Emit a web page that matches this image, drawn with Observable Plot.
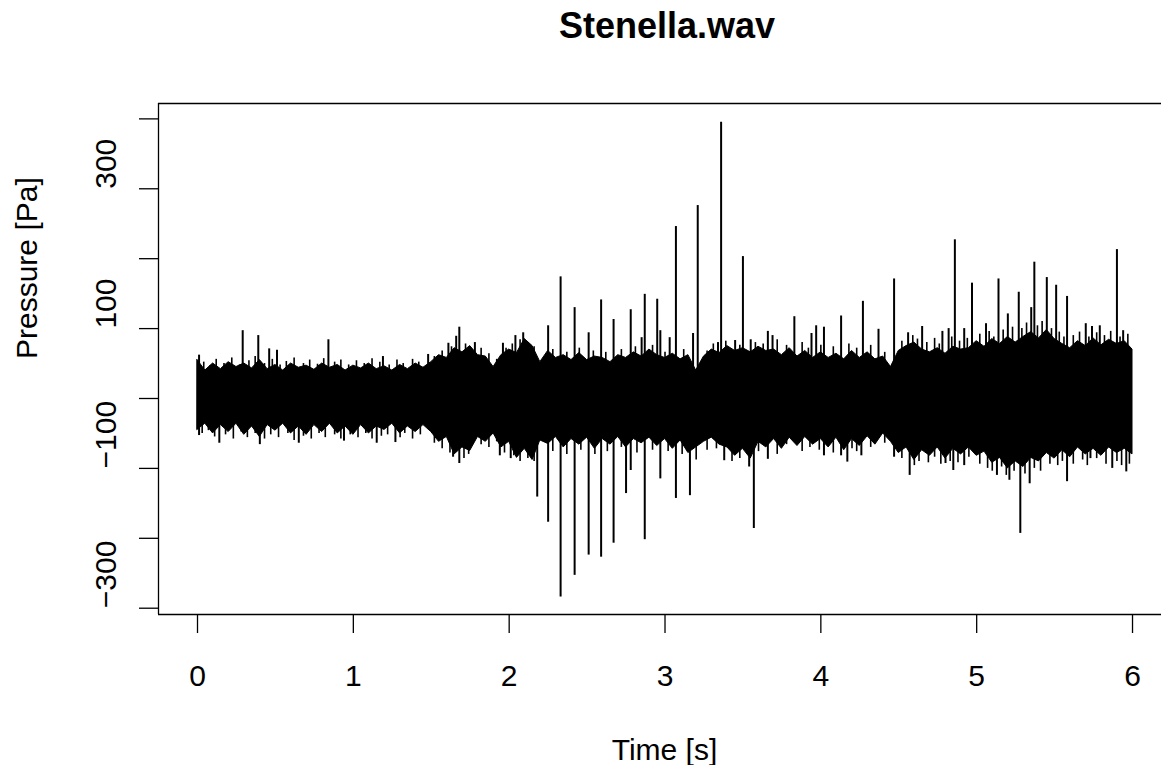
<!DOCTYPE html>
<html>
<head>
<meta charset="utf-8">
<script src="https://cdn.jsdelivr.net/npm/d3@7"></script>
<script src="https://cdn.jsdelivr.net/npm/@observablehq/plot@0.6"></script>
<style>
  html, body { margin: 0; padding: 0; background: #fff; overflow: hidden; }
</style>
</head>
<body>
<div id="chart"></div>
<script>
// ---- texts and ticks ----
const chartTitle = "Stenella.wav";
const xLabel = "Time [s]";
const yLabel = "Pressure [Pa]";
const xTicks = [0, 1, 2, 3, 4, 5, 6];
const yTicks = [-300, -200, -100, 0, 100, 200, 300, 400];
const yTickLabels = [-300, -100, 100, 300];

// ---- waveform envelope, one value every 0.05 s from 0 to 6 s ----
const envStep = 0.05;
const envUpper = [
  55, 40, 50, 42, 52, 45, 50, 43, 55, 42,
  48, 40, 50, 44, 47, 41, 50, 44, 48, 40,
  47, 43, 50, 42, 46, 40, 48, 42, 50, 44,
  52, 62, 58, 72, 66, 75, 62, 60, 45, 62,
  70, 65, 85, 75, 52, 68, 58, 62, 55, 65,
  55, 60, 58, 52, 62, 58, 66, 60, 70, 62,
  58, 64, 56, 62, 40, 60, 70, 65, 75, 68,
  72, 66, 74, 68, 70, 62, 72, 60, 68, 58,
  66, 58, 64, 56, 68, 58, 66, 56, 60, 45,
  68, 75, 80, 70, 66, 72, 64, 74, 70, 72,
  82, 74, 85, 78, 88, 80, 88, 95, 86, 98,
  85, 78, 72, 82, 75, 86, 76, 84, 78, 82,
  70
];
const envLower = [
  -45, -36, -50, -38, -48, -36, -52, -40, -55, -38,
  -46, -36, -50, -40, -52, -38, -48, -36, -50, -40,
  -52, -38, -50, -40, -45, -36, -50, -40, -48, -38,
  -48, -62, -55, -80, -70, -75, -55, -62, -50, -70,
  -62, -85, -72, -88, -60, -65, -55, -70, -58, -66,
  -56, -72, -58, -66, -55, -70, -58, -64, -56, -68,
  -58, -72, -60, -78, -70, -62, -56, -66, -70, -82,
  -72, -86, -62, -70, -58, -72, -56, -68, -55, -66,
  -58, -70, -56, -74, -58, -68, -54, -66, -50, -62,
  -78, -70, -88, -74, -82, -70, -86, -72, -80, -70,
  -82, -76, -92, -85, -100, -90, -98, -85, -90, -78,
  -86, -74, -84, -70, -80, -72, -82, -70, -78, -72,
  -80
];

// ---- fine oscillation tips along the edges (time s, pressure Pa) ----
const hairUpT = [
  0.04, 0.08, 0.12, 0.17, 0.22, 0.27, 0.33, 0.37, 0.43, 0.48,
  0.53, 0.57, 0.62, 0.68, 0.72, 0.77, 0.81, 0.88, 0.92, 0.97,
  1.02, 1.07, 1.12, 1.17, 1.23, 1.28, 1.32, 1.38, 1.42,
  1.52, 1.57, 1.63, 1.72, 1.76, 1.82, 1.87, 1.92, 1.98, 2.02, 2.07, 2.12, 2.16,
  2.28, 2.37, 2.45, 2.54, 2.62, 2.72, 2.81, 2.92, 3.00, 3.12, 3.27, 3.31, 3.39, 3.48, 3.58,
  3.63, 3.72, 3.78, 3.88, 3.92, 4.00, 4.08, 4.18, 4.23, 4.32, 4.41,
  4.52, 4.59, 4.62, 4.68, 4.73, 4.76, 4.84, 4.89, 4.94,
  5.02, 5.08, 5.11, 5.17, 5.23, 5.29, 5.32, 5.39, 5.42, 5.48,
  5.53, 5.56, 5.62, 5.66, 5.72, 5.77, 5.82, 5.86, 5.92, 5.97
];
const hairUpV = [
  52, 47, 56, 50, 58, 48, 54, 60, 50, 56,
  48, 53, 58, 50, 55, 49, 57, 52, 55, 48,
  54, 50, 57, 52, 48, 55, 50, 56, 52,
  60, 68, 74, 78, 70, 72, 64, 56, 72, 78, 84, 80, 74,
  70, 66, 72, 68, 66, 70, 74, 76, 66, 70, 68, 78, 82, 76, 80,
  78, 84, 76, 80, 72, 76, 74, 78, 72, 76, 66,
  82, 90, 85, 80, 86, 78, 88, 82, 86,
  92, 96, 88, 98, 102, 100, 108, 104, 110, 100,
  95, 88, 90, 95, 88, 94, 90, 96, 88, 92
];
const hairDownT = [
  0.03, 0.07, 0.11, 0.18, 0.23, 0.28, 0.32, 0.37, 0.43, 0.47,
  0.52, 0.58, 0.62, 0.68, 0.73, 0.78, 0.82, 0.88, 0.92, 0.98,
  1.03, 1.08, 1.12, 1.18, 1.22, 1.30, 1.33, 1.38, 1.43,
  1.52, 1.57, 1.62, 1.71, 1.74, 1.82, 1.87, 1.92, 1.97, 2.03, 2.07, 2.12, 2.16,
  2.28, 2.37, 2.46, 2.55, 2.63, 2.72, 2.82, 2.92, 3.02, 3.11, 3.20, 3.27, 3.33, 3.43, 3.48, 3.60,
  3.72, 3.78, 3.88, 3.93, 3.99, 4.08, 4.20, 4.23, 4.32, 4.41,
  4.52, 4.60, 4.63, 4.69, 4.73, 4.77, 4.83, 4.88, 4.95,
  5.02, 5.07, 5.10, 5.16, 5.19, 5.24, 5.31, 5.37, 5.41, 5.47,
  5.52, 5.55, 5.62, 5.68, 5.71, 5.77, 5.83, 5.90, 5.93, 5.98
];
const hairDownV = [
  -50, -46, -55, -52, -58, -48, -56, -50, -58, -52,
  -56, -50, -60, -54, -58, -50, -56, -52, -58, -52,
  -56, -50, -58, -54, -52, -56, -50, -58, -52,
  -64, -72, -78, -86, -80, -66, -70, -62, -78, -82, -90, -86, -90,
  -76, -80, -74, -80, -76, -70, -78, -74, -76, -80, -88, -74, -72, -90, -86, -76,
  -80, -66, -76, -70, -74, -78, -72, -76, -70, -64,
  -86, -96, -90, -92, -84, -94, -90, -92, -84,
  -94, -100, -104, -98, -110, -104, -108, -100, -104, -94,
  -96, -90, -94, -88, -96, -86, -94, -90, -96, -94
];

// ---- individual clicks / peaks (time s, pressure Pa) ----
const peakUpT = [
  0.01, 0.29, 0.39, 0.46, 0.51, 0.84, 1.19, 1.48, 1.61, 1.66,
  1.68, 1.78, 1.96, 2.04, 2.09, 2.25, 2.33, 2.42, 2.51, 2.59,
  2.67, 2.78, 2.85, 2.87, 2.95, 2.97, 3.03, 3.07, 3.18, 3.21,
  3.34, 3.36, 3.45, 3.50, 3.55, 3.66, 3.69, 3.83, 3.94, 3.97,
  4.02, 4.13, 4.27, 4.37, 4.47, 4.56, 4.65, 4.78, 4.82, 4.86,
  4.92, 4.97, 5.06, 5.14, 5.20, 5.27, 5.35, 5.37, 5.45, 5.51,
  5.58, 5.70, 5.74, 5.79, 5.90, 5.94
];
const peakUpV = [
  62, 97, 90, 71, 69, 84, 60, 63, 79, 89,
  102, 80, 79, 90, 94, 104, 174, 130, 94, 141,
  113, 127, 87, 149, 142, 97, 87, 246, 93, 276,
  80, 395, 83, 203, 84, 96, 90, 117, 93, 104,
  102, 118, 139, 99, 171, 94, 103, 96, 100, 227,
  100, 165, 107, 171, 121, 152, 130, 195, 173, 162,
  146, 107, 103, 104, 213, 97
];
const peakDownT = [
  0.01, 0.14, 0.40, 0.65, 0.94, 1.15, 1.27, 1.64, 1.68, 1.94,
  2.01, 2.18, 2.25, 2.33, 2.42, 2.51, 2.59, 2.67, 2.75, 2.78,
  2.87, 2.97, 3.07, 3.16, 3.38, 3.54, 3.57, 3.66, 4.02, 4.13,
  4.17, 4.26, 4.47, 4.57, 4.80, 4.85, 4.92, 5.13, 5.21, 5.28,
  5.34, 5.58, 5.73, 5.87, 5.96
];
const peakDownV = [
  -53, -64, -66, -64, -61, -64, -63, -84, -93, -82,
  -86, -141, -177, -284, -253, -224, -227, -207, -136, -103,
  -202, -115, -143, -139, -89, -98, -186, -87, -82, -82,
  -91, -82, -84, -110, -93, -103, -96, -110, -117, -193,
  -122, -119, -86, -100, -105
];

// ---- tables built from the arrays ----
const env = envUpper.map((u, i) => ({ t: +(i * envStep).toFixed(2), u, l: envLower[i] }));
const hairs = hairUpT.map((t, i) => ({ t, v: hairUpV[i] }))
  .concat(hairDownT.map((t, i) => ({ t, v: hairDownV[i] })));
const peaks = peakUpT.map((t, i) => ({ t, v: peakUpV[i] }))
  .concat(peakDownT.map((t, i) => ({ t, v: peakDownV[i] })));

const fmt = d => (d < 0 ? "\u2212" + Math.abs(d) : String(d));
const font = "'Liberation Sans', Arial, Helvetica, sans-serif";
const xDom = [-0.2503, 6.186];
const yDom = [-309, 422];
const lw = 1.3;

const chart = Plot.plot({
  width: 1161,
  height: 765,
  marginLeft: 158,
  marginRight: 0,
  marginTop: 103,
  marginBottom: 151,
  style: { fontFamily: font, background: "white", color: "black", overflow: "visible" },
  x: { domain: xDom, axis: null },
  y: { domain: yDom, axis: null },
  marks: [
    Plot.areaY(env, { x: "t", y1: "l", y2: "u", fill: "black", stroke: "black", strokeWidth: 1 }),
    Plot.ruleX(hairs, { x: "t", y1: 0, y2: "v", stroke: "black", strokeWidth: 1.6 }),
    Plot.ruleX(peaks, { x: "t", y1: 0, y2: "v", stroke: "black", strokeWidth: 2 }),
    // box (right side lies outside the window)
    Plot.ruleY([yDom[1]], { stroke: "black", strokeWidth: lw }),
    Plot.ruleY([yDom[0]], { stroke: "black", strokeWidth: lw }),
    Plot.ruleX([xDom[0]], { stroke: "black", strokeWidth: lw }),
    // axes ticks
    Plot.axisX({ ticks: xTicks, tickSize: 19, tickFormat: () => "", label: null, anchor: "bottom", strokeWidth: lw }),
    Plot.axisY({ ticks: yTicks, tickSize: 19, tickFormat: () => "", label: null, anchor: "left", strokeWidth: lw }),
    // tick labels
    Plot.text(xTicks, { x: d => d, frameAnchor: "bottom", dy: 71, lineAnchor: "bottom", text: d => fmt(d), fontSize: 30, fill: "black" }),
    Plot.text(yTickLabels, { y: d => d, frameAnchor: "left", dx: -43, rotate: -90, lineAnchor: "bottom", text: d => fmt(d), fontSize: 30, fill: "black" }),
    // titles
    Plot.text([chartTitle], { frameAnchor: "top", dx: 7, dy: -66, lineAnchor: "bottom", text: d => d, fontSize: 36, fontWeight: "bold", fill: "black" }),
    Plot.text([xLabel], { frameAnchor: "bottom", dx: 4.5, dy: 145, lineAnchor: "bottom", text: d => d, fontSize: 30, fill: "black" }),
    Plot.text([yLabel], { frameAnchor: "left", dx: -122, rotate: -90, lineAnchor: "bottom", text: d => d, fontSize: 30, fill: "black" })
  ]
});
document.getElementById("chart").appendChild(chart);
</script>
</body>
</html>
